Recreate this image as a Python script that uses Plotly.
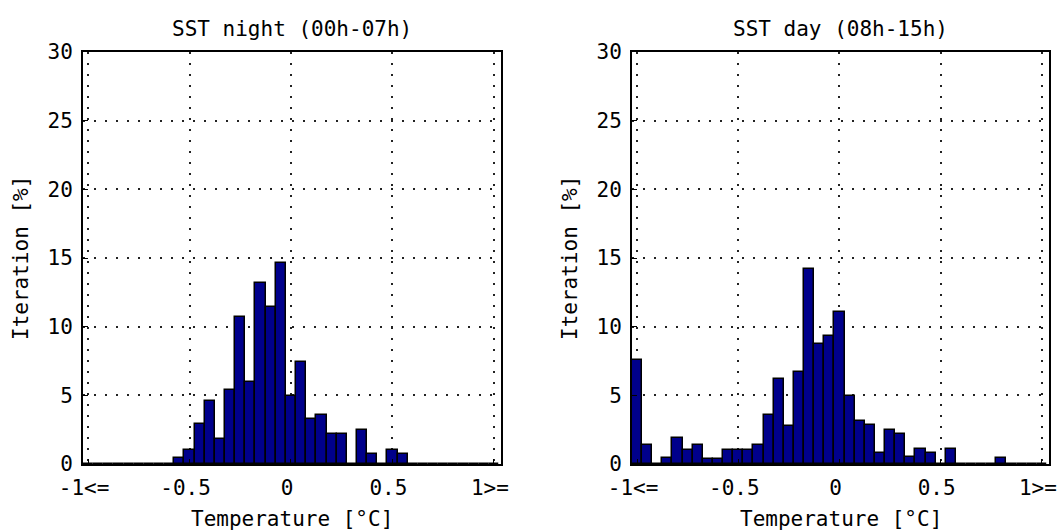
import plotly.graph_objects as go

# ---------------- data ----------------
bin_centers = [-1.00, -0.95, -0.90, -0.85, -0.80, -0.75, -0.70, -0.65, -0.60, -0.55,
               -0.50, -0.45, -0.40, -0.35, -0.30, -0.25, -0.20, -0.15, -0.10, -0.05,
               0.00, 0.05, 0.10, 0.15, 0.20, 0.25, 0.30, 0.35, 0.40, 0.45,
               0.50, 0.55, 0.60, 0.65, 0.70, 0.75, 0.80, 0.85, 0.90, 0.95, 1.00]

night_pct = [0, 0, 0, 0, 0, 0, 0, 0, 0, 0.44,
             1.04, 2.9, 4.6, 1.8, 5.4, 10.7, 6.0, 13.2, 11.45, 14.6,
             4.95, 7.45, 3.25, 3.55, 2.15, 2.15, 0, 2.45, 0.75, 0,
             1.05, 0.75, 0, 0, 0, 0, 0, 0, 0, 0, 0]

day_pct = [7.6, 1.4, 0, 0.45, 1.9, 1.05, 1.4, 0.4, 0.4, 1.05,
           1.05, 1.05, 1.4, 3.55, 6.2, 2.8, 6.7, 14.2, 8.75, 9.35,
           11.05, 4.95, 3.15, 2.85, 0.8, 2.5, 2.2, 0.5, 1.1, 0.8,
           0, 1.1, 0, 0, 0, 0, 0.45, 0, 0, 0, 0]

x_tickvals = [-1, -0.5, 0, 0.5, 1]
x_ticktext = ["-1&lt;=", "-0.5", "0", "0.5", "1&gt;="]
y_tickvals = [0, 5, 10, 15, 20, 25, 30]
titles = ["SST night (00h-07h)", "SST day (08h-15h)"]
x_title = "Temperature [°C]"
y_title = "Iteration [%]"

# ---------------- layout geometry ----------------
W, H = 1062, 532
FONT = "DejaVu Sans Mono"
FS = 21
bar_color = "#00008b"

x_domains = [[83 / W, 501 / W], [632 / W, 1049 / W]]
y_domain = [1 - 464 / H, 1 - 52 / H]

fig = go.Figure()

for i, vals in enumerate([night_pct, day_pct]):
    xa = "x" if i == 0 else "x2"
    ya = "y" if i == 0 else "y2"
    fig.add_trace(go.Bar(
        x=bin_centers, y=vals, width=0.05,
        marker=dict(color=bar_color, line=dict(color="black", width=1.5)),
        xaxis=xa, yaxis=ya, showlegend=False,
        hovertemplate="%{x}: %{y}%<extra></extra>",
    ))

axis_common = dict(
    showline=True, linecolor="black", linewidth=2, mirror=True,
    ticks="inside", ticklen=5, tickcolor="black", tickwidth=1,
    showgrid=True, gridcolor="#222222", gridwidth=1.5, griddash="2px,9px",
    zeroline=False, automargin=False,
    tickfont=dict(family=FONT, size=FS, color="black"),
)

layout = dict(
    width=W, height=H,
    margin=dict(l=0, r=0, t=0, b=0, autoexpand=False),
    paper_bgcolor="white", plot_bgcolor="white",
    bargap=0,
    font=dict(family=FONT, size=FS, color="black"),
)

for i in range(2):
    sfx = "" if i == 0 else "2"
    layout["xaxis" + sfx] = dict(
        axis_common, domain=x_domains[i], range=[-1.025, 1.035],
        tickmode="array", tickvals=x_tickvals, ticktext=x_ticktext,
        anchor="y" + sfx, ticklabelstandoff=4, ticklabelshift=-4,
    )
    layout["yaxis" + sfx] = dict(
        axis_common, domain=y_domain, range=[0, 30],
        tickmode="array", tickvals=y_tickvals, ticktext=[str(v) for v in y_tickvals],
        anchor="x" + sfx, ticklabelstandoff=4,
    )

fig.update_layout(**layout)

annotations = []
for i in range(2):
    cx = (x_domains[i][0] + x_domains[i][1]) / 2
    annotations.append(dict(text=titles[i], x=cx, y=1 - 29 / H, xref="paper", yref="paper",
                            xanchor="center", yanchor="middle", showarrow=False,
                            font=dict(family=FONT, size=FS, color="black")))
    annotations.append(dict(text=x_title, x=cx, y=1 - 519 / H, xref="paper", yref="paper",
                            xanchor="center", yanchor="middle", showarrow=False,
                            font=dict(family=FONT, size=FS, color="black")))
    annotations.append(dict(text=y_title, x=(x_domains[i][0] * W - 62) / W, y=1 - 258 / H,
                            xref="paper", yref="paper", textangle=-90,
                            xanchor="center", yanchor="middle", showarrow=False,
                            font=dict(family=FONT, size=FS, color="black")))
fig.update_layout(annotations=annotations)

fig.write_html(
    "out.html",
    config={"displayModeBar": False},
    post_script="document.body.style.margin='0';document.body.style.overflow='hidden';",
)
